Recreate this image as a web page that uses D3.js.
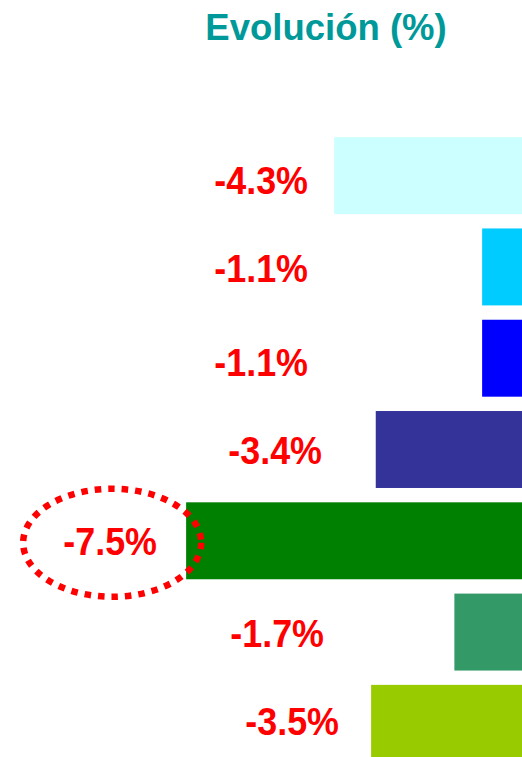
<!DOCTYPE html>
<html>
<head>
<meta charset="utf-8">
<script src="https://cdn.jsdelivr.net/npm/d3@7"></script>
<style>
  body { margin: 0; background: #fff; }
  svg { display: block; }
</style>
</head>
<body>
<div id="chart"></div>
<script>
// Data
var categories = ["c1", "c2", "c3", "c4", "c5", "c6", "c7"];
var values = [-4.3, -1.1, -1.1, -3.4, -7.5, -1.7, -3.5];
var colors = ["#CCFFFF", "#00CCFF", "#0000FF", "#333399", "#008000", "#339966", "#99CC00"];
var highlightIndex = 4;
var title = "Evolución (%)";

// Layout: right edge of each value label (labels were placed by hand)
var labelRight = [308, 308, 308, 322, 157, 324, 339];
var labelDy = [18, 15, 18, 14, 14, 15, 12];

var width = 522, height = 757;

var svg = d3.select("#chart")
  .append("svg")
  .attr("width", width)
  .attr("height", height);

// x axis: zero sits just past the right edge of the picture
var x = d3.scaleLinear()
  .domain([-8, 0])
  .range([163, 533]);

var y = d3.scaleBand()
  .domain(categories)
  .range([130, 769])
  .paddingInner(0.157)
  .paddingOuter(0.0785);

// Title
svg.append("text")
  .attr("x", 326)
  .attr("y", 40)
  .attr("text-anchor", "middle")
  .style("font-family", "'Liberation Sans', Arial, sans-serif")
  .style("font-weight", "bold")
  .style("font-size", "36.5px")
  .attr("fill", "#009999")
  .text(title);

// Bars
svg.selectAll(".bar")
  .data(values)
  .enter()
  .append("rect")
  .attr("class", "bar")
  .attr("x", d => x(d))
  .attr("y", (d, i) => y(categories[i]))
  .attr("width", d => x(0) - x(d))
  .attr("height", y.bandwidth())
  .attr("fill", (d, i) => colors[i]);

// Value labels (a little narrower than plain Arial bold)
var labels = svg.selectAll(".label")
  .data(values)
  .enter()
  .append("text")
  .attr("class", "label")
  .attr("transform", (d, i) =>
    "translate(" + labelRight[i] + "," + (y(categories[i]) + y.bandwidth() / 2 + labelDy[i]) + ") scale(0.92,1)")
  .attr("text-anchor", "end")
  .style("font-family", "'Liberation Sans', Arial, sans-serif")
  .style("font-weight", "bold")
  .style("font-size", "39px")
  .attr("fill", "#FF0000")
  .text(d => d.toFixed(1) + "%");

// Dotted ellipse round the biggest drop
var hi = labels.nodes()[highlightIndex];
var box = hi.getBBox();
var cx = labelRight[highlightIndex] - box.width * 0.92 / 2 + 2;
var cy = y(categories[highlightIndex]) + y.bandwidth() / 2 + 2;
svg.append("ellipse")
  .attr("cx", cx)
  .attr("cy", cy)
  .attr("rx", 89)
  .attr("ry", 54)
  .attr("fill", "none")
  .attr("stroke", "#FF0000")
  .attr("stroke-width", 6.5)
  .attr("stroke-dasharray", "6.5,7");
</script>
</body>
</html>
